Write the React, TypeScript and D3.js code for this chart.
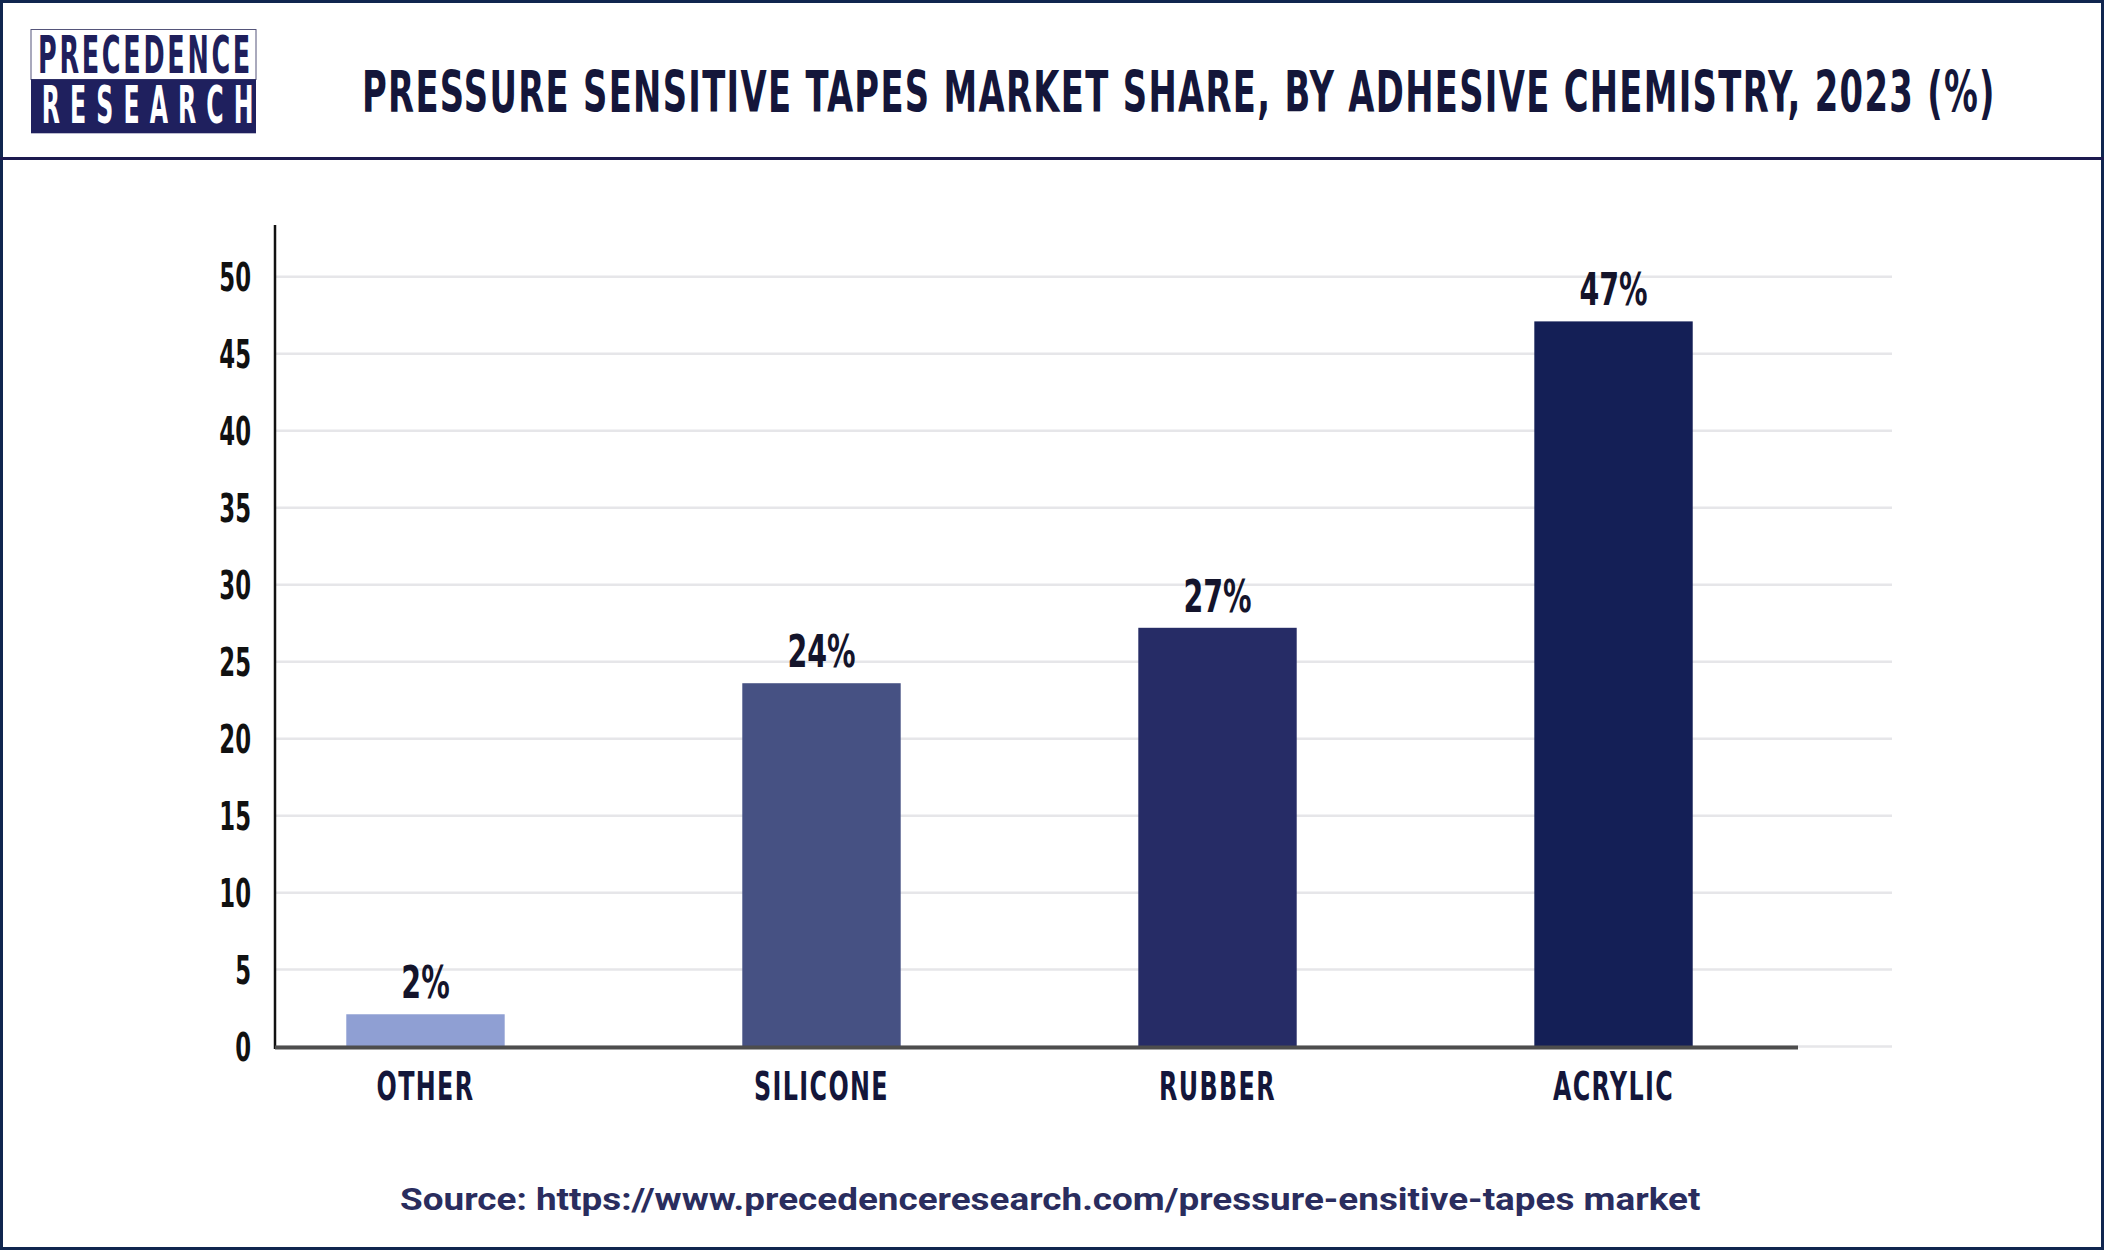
import React, { useLayoutEffect, useRef, useState } from 'react';
import * as d3 from 'd3';

const categories = ['OTHER', 'SILICONE', 'RUBBER', 'ACRYLIC'];
const values = [2.1, 23.6, 27.2, 47.1];
const valueLabels = ['2%', '24%', '27%', '47%'];
const barColors = ['#8f9fd3', '#465183', '#262c66', '#141f56'];
const yTicks = [0, 5, 10, 15, 20, 25, 30, 35, 40, 45, 50];
const titleText = 'PRESSURE SENSITIVE TAPES MARKET SHARE, BY ADHESIVE CHEMISTRY, 2023 (%)';
const sourceText = 'Source: https://www.precedenceresearch.com/pressure-ensitive-tapes market';

const W = 2104;
const H = 1250;
const COND = "'Liberation Sans Narrow', 'DejaVu Sans Condensed', 'Roboto Condensed', sans-serif";

function T(props: any) {
  const { x, y, sx = 1, anchor = 'middle', children, ...rest } = props;
  return (
    <text transform={`translate(${x},${y}) scale(${sx},1)`} textAnchor={anchor} {...rest}>
      {children}
    </text>
  );
}

// Text horizontally scaled to occupy a given width (start-anchored)
function FitText(props: any) {
  const { x, y, width, children, ...rest } = props;
  const ref = useRef<SVGTextElement>(null);
  const [sx, setSx] = useState(1);
  useLayoutEffect(() => {
    if (ref.current) {
      const len = ref.current.getComputedTextLength();
      if (len > 0) setSx(width / len);
    }
  }, [width, children]);
  return (
    <g transform={`translate(${x},${y}) scale(${sx},1)`}>
      <text ref={ref} x={0} y={0} {...rest}>{children}</text>
    </g>
  );
}

export default function App() {
  const axisX = 275;
  const y = d3.scaleLinear().domain([0, 53.36]).range([1046.6, 225]);
  const x = d3.scaleBand<string>().domain(categories).range([275, 1764]).paddingInner(0.6).paddingOuter(0.18);
  const gridEnd = 1892;
  const baseEnd = 1798;

  return (
    <svg width={W} height={H} style={{ position: 'absolute', left: 0, top: 0, background: '#fff' }}>
      <rect x={0} y={0} width={W} height={H} fill="#fff" />
      {/* outer border */}
      <rect x={1.5} y={1.5} width={W - 3} height={H - 3} fill="none" stroke="#10264f" strokeWidth={3} />
      {/* header separator */}
      <line x1={0} x2={W} y1={158.5} y2={158.5} stroke="#1c1a4f" strokeWidth={3} />

      {/* logo */}
      <rect x={31} y={29.5} width={225} height={50} fill="#fff" stroke="#55557a" strokeWidth={1} />
      <rect x={31} y={79.3} width={225} height={54} fill="#1f205e" />
      <FitText x={38} y={73} width={215} fontFamily={COND} fontWeight="bold" fontSize={52} fill="#1f1f5c"
        letterSpacing={5}>PRECEDENCE</FitText>
      <FitText x={41.7} y={123} width={222} fontFamily={COND} fontWeight="bold" fontSize={52} fill="#ffffff"
        letterSpacing={20}>RESEARCH</FitText>

      {/* title */}
      <FitText x={362} y={111.7} width={1634} fontFamily={COND} fontWeight="bold" fontSize={57} fill="#14163a"
        letterSpacing={2}>{titleText}</FitText>

      {/* gridlines */}
      {yTicks.map((t) => (
        <line key={'g' + t} x1={axisX} x2={gridEnd} y1={y(t)} y2={y(t)} stroke="#e6e6e9" strokeWidth={2.5} />
      ))}

      {/* y tick labels */}
      {yTicks.map((t) => (
        <T key={'t' + t} x={251} y={y(t) + 14} sx={0.65} anchor="end" fontFamily={COND} fontWeight="bold"
          fontSize={39} fill="#111111">{t}</T>
      ))}

      {/* bars */}
      {categories.map((c, i) => (
        <rect key={'b' + c} x={x(c)} y={y(values[i])} width={x.bandwidth()} height={y(0) - y(values[i])}
          fill={barColors[i]} />
      ))}

      {/* value labels */}
      {categories.map((c, i) => (
        <T key={'v' + c} x={(x(c) as number) + x.bandwidth() / 2} y={y(values[i]) - 16} sx={0.72}
          fontFamily={COND} fontWeight="bold" fontSize={44} fill="#14142b">{valueLabels[i]}</T>
      ))}

      {/* axes */}
      <line x1={axisX} x2={axisX} y1={225} y2={1049} stroke="#111" strokeWidth={2.5} />
      <line x1={axisX} x2={baseEnd} y1={y(0) + 1} y2={y(0) + 1} stroke="#4d4d4d" strokeWidth={4} />

      {/* category labels */}
      {categories.map((c) => (
        <T key={'c' + c} x={(x(c) as number) + x.bandwidth() / 2} y={1100} sx={0.68}
          fontFamily={COND} fontWeight="bold" fontSize={39} fill="#14163a" letterSpacing={2}>{c}</T>
      ))}

      {/* source */}
      <FitText x={400} y={1210} width={1301} fontFamily="Roboto, 'Liberation Sans', Arial, sans-serif"
        fontWeight="bold" fontSize={31} fill="#2a2d5e">{sourceText}</FitText>
    </svg>
  );
}
